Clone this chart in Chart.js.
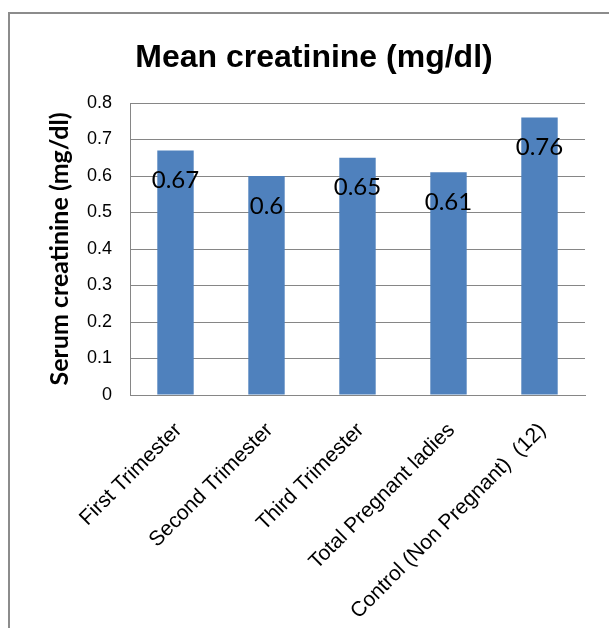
<!DOCTYPE html>
<html>
<head>
<meta charset="utf-8">
<script src="https://cdn.jsdelivr.net/npm/chart.js@4"></script>
<style>
  html, body { margin: 0; padding: 0; background: #fff; }
  #wrap { width: 609px; height: 628px; position: relative; }
</style>
</head>
<body>
<div id="wrap"><canvas id="creatChart"></canvas></div>
<script>
// Values
const groups = ["First Trimester", "Second Trimester", "Third Trimester", "Total Pregnant ladies", "Control (Non Pregnant)  (12)"];
const meanCreatinine = [0.67, 0.6, 0.65, 0.61, 0.76];
const yTicks = [0, 0.1, 0.2, 0.3, 0.4, 0.5, 0.6, 0.7, 0.8];

const frameBorder = {
    id: 'frameBorder',
    beforeDraw(chart) {
        const ctx = chart.ctx;
        ctx.save();
        ctx.fillStyle = '#fff';
        ctx.fillRect(0, 0, chart.width, chart.height);
        ctx.strokeStyle = '#8c8c8c';
        ctx.lineWidth = 2;
        ctx.strokeRect(9, 13, 800, 800);
        ctx.restore();
    }
};

// value labels sit a bit below the top of each bar
const barValues = {
    id: 'barValues',
    afterDatasetsDraw(chart) {
        const ctx = chart.ctx;
        const meta = chart.getDatasetMeta(0);
        ctx.save();
        ctx.font = '24px Lato';
        ctx.fillStyle = '#000';
        ctx.textAlign = 'center';
        ctx.textBaseline = 'middle';
        meta.data.forEach((bar, i) => {
            ctx.fillText(String(meanCreatinine[i]), bar.x, bar.y + 30);
        });
        ctx.restore();
    }
};

const initChart = () => {
    const ctx = document.getElementById('creatChart').getContext('2d');
    new Chart(ctx, {
        type: 'bar',
        data: {
            labels: groups,
            datasets: [{
                label: 'Mean creatinine',
                data: meanCreatinine,
                backgroundColor: '#4f81bd',
                borderWidth: 0,
                barPercentage: 0.4,
                categoryPercentage: 1
            }]
        },
        options: {
            responsive: true,
            maintainAspectRatio: false,
            animation: false,
            layout: { padding: { left: 43, right: 24, top: 0, bottom: 0 } },
            plugins: {
                legend: { display: false },
                tooltip: { enabled: false },
                title: {
                    display: true,
                    text: 'Mean creatinine (mg/dl)',
                    color: '#000',
                    font: { family: 'Liberation Sans', size: 32, weight: 'bold' },
                    padding: { top: 39, bottom: 25.6 }
                }
            },
            scales: {
                x: {
                    grid: { display: false, drawTicks: false },
                    border: { display: true, color: '#868686', width: 1 },
                    ticks: {
                        color: '#000',
                        font: { family: 'Liberation Sans', size: 21 },
                        minRotation: 45,
                        maxRotation: 45,
                        padding: 23,
                        labelOffset: 3,
                        autoSkip: false
                    },
                    afterFit: (scale) => { scale.height = 233; }
                },
                y: {
                    min: 0,
                    max: 0.8,
                    afterBuildTicks: (scale) => { scale.ticks = yTicks.map(v => ({ value: v })); },
                    grid: { color: '#868686', lineWidth: 1, drawTicks: false },
                    border: { display: true, color: '#868686', width: 1 },
                    ticks: {
                        color: '#000',
                        font: { family: 'Liberation Sans', size: 18 },
                        padding: 18,
                        callback: (v) => String(Math.round(v * 10) / 10)
                    },
                    title: {
                        display: true,
                        text: 'Serum creatinine (mg/dl)',
                        color: '#000',
                        font: { family: 'Lato', size: 25, weight: 'bold' },
                        padding: { top: 2, bottom: 0 }
                    },
                    afterFit: (scale) => { scale.width = 87; }
                }
            }
        },
        plugins: [frameBorder, barValues]
    });
};

document.addEventListener('DOMContentLoaded', initChart);
</script>
</body>
</html>
